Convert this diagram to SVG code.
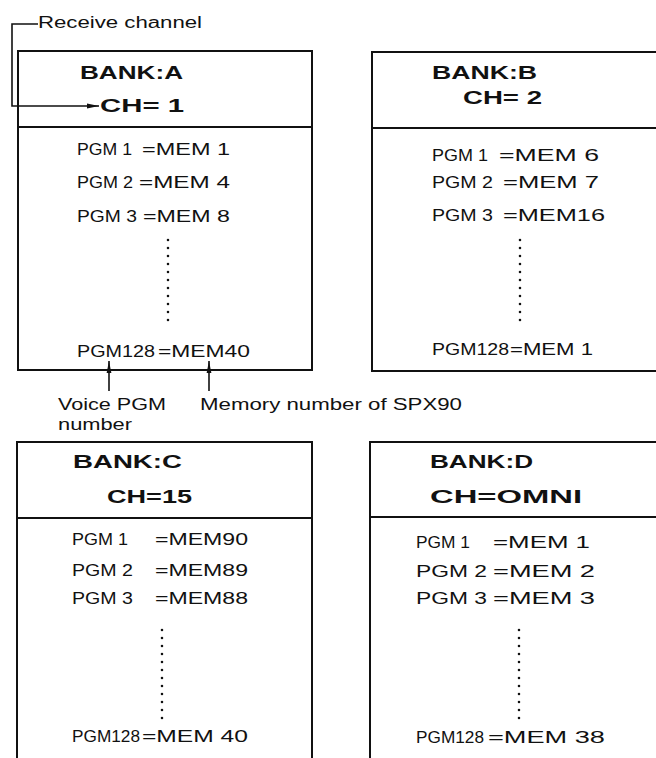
<svg xmlns="http://www.w3.org/2000/svg" width="656" height="758" viewBox="0 0 656 758">
<style>
  text { font-family: "Liberation Sans", Arial, sans-serif; fill: #111; }
  .lbl { font-size: 16px; }
  .bank { font-size: 19px; font-weight: bold; }
  .ch { font-size: 18px; font-weight: bold; }
  .row { font-size: 17px; }
  .box { fill: none; stroke: #111; stroke-width: 2; }
  .div { stroke: #111; stroke-width: 2; }
  .dots { stroke: #111; stroke-width: 2.6; stroke-linecap: round; stroke-dasharray: 0 8; fill: none; }
  .conn { fill: none; stroke: #111; stroke-width: 1.6; }
</style>
<defs>
  <marker id="arr" viewBox="0 0 12 6" refX="12" refY="3" markerWidth="12" markerHeight="6" markerUnits="userSpaceOnUse" orient="auto">
    <path d="M0,0.6 L12,3 L0,5.4 Z" fill="#111"/>
  </marker>
</defs>

<g id="bank-a">
  <rect class="box" x="18" y="51" width="294" height="319"/>
  <line class="div" x1="18" y1="127" x2="312" y2="127"/>
  <text class="bank" x="80" y="79" textLength="103" lengthAdjust="spacingAndGlyphs">BANK:A</text>
  <text class="ch" x="100" y="112" textLength="84" lengthAdjust="spacingAndGlyphs">CH= 1</text>
  <text class="row" x="77" y="155" textLength="55" lengthAdjust="spacingAndGlyphs">PGM 1</text>
  <text class="row" x="142" y="155" textLength="88" lengthAdjust="spacingAndGlyphs">=MEM 1</text>
  <text class="row" x="77" y="188" textLength="56" lengthAdjust="spacingAndGlyphs">PGM 2</text>
  <text class="row" x="139" y="188" textLength="91" lengthAdjust="spacingAndGlyphs">=MEM 4</text>
  <text class="row" x="77" y="222" textLength="60" lengthAdjust="spacingAndGlyphs">PGM 3</text>
  <text class="row" x="143" y="222" textLength="87" lengthAdjust="spacingAndGlyphs">=MEM 8</text>
  <line class="dots" x1="168" y1="240" x2="168" y2="328"/>
  <text class="row" x="77" y="357" textLength="78" lengthAdjust="spacingAndGlyphs">PGM128</text>
  <text class="row" x="158" y="357" textLength="92" lengthAdjust="spacingAndGlyphs">=MEM40</text>
</g>

<g id="bank-b">
  <rect class="box" x="372" y="52" width="300" height="319"/>
  <line class="div" x1="372" y1="128" x2="672" y2="128"/>
  <text class="bank" x="432" y="79" textLength="105" lengthAdjust="spacingAndGlyphs">BANK:B</text>
  <text class="ch" x="463" y="104" textLength="79" lengthAdjust="spacingAndGlyphs">CH= 2</text>
  <text class="row" x="432" y="161" textLength="56" lengthAdjust="spacingAndGlyphs">PGM 1</text>
  <text class="row" x="499" y="161" textLength="100" lengthAdjust="spacingAndGlyphs">=MEM 6</text>
  <text class="row" x="432" y="188" textLength="61" lengthAdjust="spacingAndGlyphs">PGM 2</text>
  <text class="row" x="503" y="188" textLength="96" lengthAdjust="spacingAndGlyphs">=MEM 7</text>
  <text class="row" x="432" y="221" textLength="61" lengthAdjust="spacingAndGlyphs">PGM 3</text>
  <text class="row" x="503" y="221" textLength="102" lengthAdjust="spacingAndGlyphs">=MEM16</text>
  <line class="dots" x1="520" y1="240" x2="520" y2="328"/>
  <text class="row" x="432" y="355" textLength="77" lengthAdjust="spacingAndGlyphs">PGM128</text>
  <text class="row" x="510" y="355" textLength="83" lengthAdjust="spacingAndGlyphs">=MEM 1</text>
</g>

<g id="bank-c">
  <rect class="box" x="17" y="442" width="295" height="330"/>
  <line class="div" x1="17" y1="518" x2="312" y2="518"/>
  <text class="bank" x="73" y="468" textLength="109" lengthAdjust="spacingAndGlyphs">BANK:C</text>
  <text class="ch" x="107" y="503" textLength="85" lengthAdjust="spacingAndGlyphs">CH=15</text>
  <text class="row" x="72" y="545" textLength="56" lengthAdjust="spacingAndGlyphs">PGM 1</text>
  <text class="row" x="155" y="545" textLength="93" lengthAdjust="spacingAndGlyphs">=MEM90</text>
  <text class="row" x="72" y="576" textLength="61" lengthAdjust="spacingAndGlyphs">PGM 2</text>
  <text class="row" x="155" y="576" textLength="93" lengthAdjust="spacingAndGlyphs">=MEM89</text>
  <text class="row" x="72" y="604" textLength="61" lengthAdjust="spacingAndGlyphs">PGM 3</text>
  <text class="row" x="155" y="604" textLength="93" lengthAdjust="spacingAndGlyphs">=MEM88</text>
  <line class="dots" x1="162" y1="630" x2="162" y2="720"/>
  <text class="row" x="72" y="742" textLength="68" lengthAdjust="spacingAndGlyphs">PGM128</text>
  <text class="row" x="142" y="742" textLength="106" lengthAdjust="spacingAndGlyphs">=MEM 40</text>
</g>

<g id="bank-d">
  <rect class="box" x="370" y="442" width="300" height="330"/>
  <line class="div" x1="370" y1="517" x2="670" y2="517"/>
  <text class="bank" x="430" y="468" textLength="103" lengthAdjust="spacingAndGlyphs">BANK:D</text>
  <text class="ch" x="430" y="503" textLength="152" lengthAdjust="spacingAndGlyphs">CH=OMNI</text>
  <text class="row" x="416" y="548" textLength="54" lengthAdjust="spacingAndGlyphs">PGM 1</text>
  <text class="row" x="493" y="548" textLength="97" lengthAdjust="spacingAndGlyphs">=MEM 1</text>
  <text class="row" x="416" y="577" textLength="71" lengthAdjust="spacingAndGlyphs">PGM 2</text>
  <text class="row" x="493" y="577" textLength="102" lengthAdjust="spacingAndGlyphs">=MEM 2</text>
  <text class="row" x="416" y="604" textLength="71" lengthAdjust="spacingAndGlyphs">PGM 3</text>
  <text class="row" x="493" y="604" textLength="102" lengthAdjust="spacingAndGlyphs">=MEM 3</text>
  <line class="dots" x1="519" y1="630" x2="519" y2="722"/>
  <text class="row" x="416" y="743" textLength="68" lengthAdjust="spacingAndGlyphs">PGM128</text>
  <text class="row" x="488" y="743" textLength="117" lengthAdjust="spacingAndGlyphs">=MEM 38</text>
</g>

<g id="labels">
  <text class="lbl" x="38" y="28" textLength="164" lengthAdjust="spacingAndGlyphs">Receive channel</text>
  <text class="lbl" x="58" y="410" textLength="108" lengthAdjust="spacingAndGlyphs">Voice PGM</text>
  <text class="lbl" x="58" y="430" textLength="74" lengthAdjust="spacingAndGlyphs">number</text>
  <text class="lbl" x="200" y="410" textLength="262" lengthAdjust="spacingAndGlyphs">Memory number of SPX90</text>
</g>

<g id="connectors">
  <path class="conn" d="M38,24 H12 V106 H99" marker-end="url(#arr)"/>
  <line class="conn" x1="109" y1="391" x2="109" y2="361" marker-end="url(#arr)"/>
  <line class="conn" x1="209" y1="391" x2="209" y2="361" marker-end="url(#arr)"/>
</g>
</svg>
